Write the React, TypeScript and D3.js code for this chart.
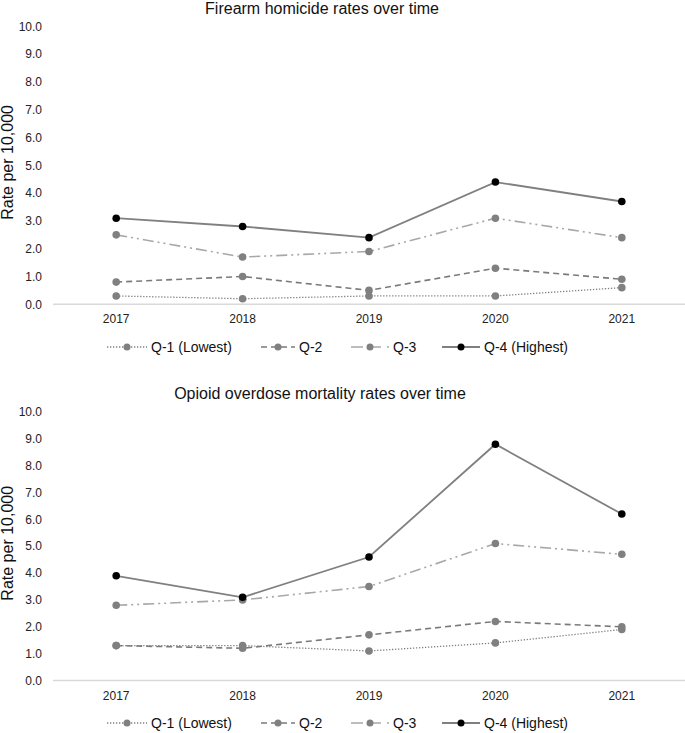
import React from "react";
import * as d3 from "d3";

const years = ["2017", "2018", "2019", "2020", "2021"];
const yTickValues = [0, 1, 2, 3, 4, 5, 6, 7, 8, 9, 10];
const seriesNames = ["Q-1 (Lowest)", "Q-2", "Q-3", "Q-4 (Highest)"];

const firearmQ1 = [0.3, 0.2, 0.3, 0.3, 0.6];
const firearmQ2 = [0.8, 1.0, 0.5, 1.3, 0.9];
const firearmQ3 = [2.5, 1.7, 1.9, 3.1, 2.4];
const firearmQ4 = [3.1, 2.8, 2.4, 4.4, 3.7];

const opioidQ1 = [1.3, 1.3, 1.1, 1.4, 1.9];
const opioidQ2 = [1.3, 1.2, 1.7, 2.2, 2.0];
const opioidQ3 = [2.8, 3.0, 3.5, 5.1, 4.7];
const opioidQ4 = [3.9, 3.1, 4.6, 8.8, 6.2];

const styles = [
  { stroke: "#808080", dash: "1.3 1.7", width: 1.3, marker: "#808080" },
  { stroke: "#7a7a7a", dash: "6 4", width: 1.6, marker: "#808080" },
  { stroke: "#a8a8a8", dash: "11 4 2 4 2 4", width: 1.6, marker: "#808080" },
  { stroke: "#808080", dash: null, width: 1.8, marker: "#000000" },
];

const FONT = "Arial, 'Liberation Sans', sans-serif";

function Panel({ title, series, top0, top10, titleY, yearY, legendY, titleX }) {
  const x = d3.scalePoint().domain(years).range([53, 685]).padding(0.5);
  const y = d3.scaleLinear().domain([0, 10]).range([top0, top10]);
  const line = d3
    .line<number>()
    .x((_, i) => x(years[i]) as number)
    .y((d) => y(d));
  const legendX = [107, 261, 351, 442];
  const legendW = [40, 34, 38, 38];
  return (
    <g>
      <text x={titleX} y={titleY} textAnchor="middle" fontSize={16} fill="#111" fontFamily={FONT}>
        {title}
      </text>
      <text
        transform={`translate(13,${(top0 + top10) / 2 - 3}) rotate(-90)`}
        textAnchor="middle"
        fontSize={16}
        fill="#111"
        fontFamily={FONT}
      >
        Rate per 10,000
      </text>
      {yTickValues.map((t) => (
        <text key={t} x={42} y={y(t)} dy="0.35em" textAnchor="end" fontSize={12} fill="#222" fontFamily={FONT}>
          {t.toFixed(1)}
        </text>
      ))}
      <line x1={53} x2={685} y1={y(0)} y2={y(0)} stroke="#d9d9d9" strokeWidth={1.5} />
      {years.map((yr) => (
        <text key={yr} x={x(yr)} y={yearY} dy="0.35em" textAnchor="middle" fontSize={12} fill="#222" fontFamily={FONT}>
          {yr}
        </text>
      ))}
      {series.map((vals, si) => (
        <g key={si}>
          <path
            d={line(vals) || ""}
            fill="none"
            stroke={styles[si].stroke}
            strokeWidth={styles[si].width}
            strokeDasharray={styles[si].dash || undefined}
          />
        </g>
      ))}
      {series.map((vals, si) => (
        <g key={"m" + si}>
          {vals.map((v, i) => (
            <circle key={i} cx={x(years[i])} cy={y(v)} r={3.8} fill={styles[si].marker} />
          ))}
        </g>
      ))}
      {seriesNames.map((name, si) => (
        <g key={name}>
          <line
            x1={legendX[si]}
            x2={legendX[si] + legendW[si]}
            y1={legendY}
            y2={legendY}
            stroke={styles[si].stroke}
            strokeWidth={styles[si].width}
            strokeDasharray={si === 2 ? "12 6" : styles[si].dash || undefined}
          />
          <circle cx={legendX[si] + legendW[si] / 2} cy={legendY} r={3.5} fill={styles[si].marker} />
          <text
            x={legendX[si] + legendW[si] + 4}
            y={legendY}
            dy="0.35em"
            fontSize={14}
            fill="#111"
            fontFamily={FONT}
          >
            {name}
          </text>
        </g>
      ))}
    </g>
  );
}

export default function App() {
  return (
    <svg
      width={685}
      height={733}
      style={{ position: "absolute", left: 0, top: 0, background: "#fff" }}
    >
      <rect width={685} height={733} fill="#fff" />
      <Panel
        title="Firearm homicide rates over time"
        series={[firearmQ1, firearmQ2, firearmQ3, firearmQ4]}
        top0={304.3}
        top10={26.5}
        titleY={14}
        yearY={319}
        legendY={347}
        titleX={322}
      />
      <Panel
        title="Opioid overdose mortality rates over time"
        series={[opioidQ1, opioidQ2, opioidQ3, opioidQ4]}
        top0={680.5}
        top10={412}
        titleY={399}
        yearY={696}
        legendY={723}
        titleX={320}
      />
    </svg>
  );
}
